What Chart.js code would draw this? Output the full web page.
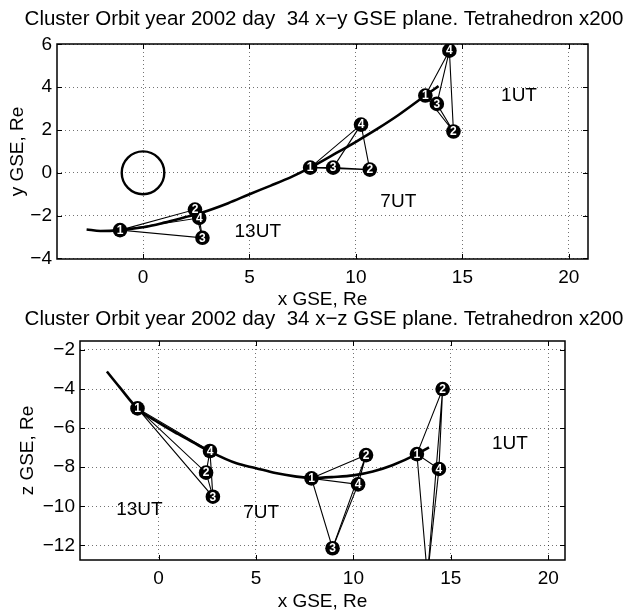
<!DOCTYPE html>
<html>
<head>
<meta charset="utf-8">
<script src="https://cdn.jsdelivr.net/npm/chart.js@4.4.0/dist/chart.umd.min.js"></script>
<style>
  body { margin: 0; background: #fff; }
  .box { position: absolute; left: 0; top: 0; width: 629px; height: 610px; }
</style>
</head>
<body>
<div class="box"><canvas id="xyChart" width="629" height="610"></canvas></div>
<div class="box"><canvas id="xzChart" width="629" height="610"></canvas></div>
<script>
const FONT = '"Liberation Sans", Arial, Helvetica, sans-serif';

// --- tick labels ---
const xTicks = [0, 5, 10, 15, 20];
const yTicks = [-4, -2, 0, 2, 4, 6];
const zTicks = [-12, -10, -8, -6, -4, -2];

// --- orbit (Re, GSE) ---
const orbitX = [-2.65, -2, -1.08, 0, 1, 2, 2.64, 4, 5, 6, 7, 7.85, 9, 10, 11, 12, 13.26, 13.88];
const orbitY = [-2.65, -2.72, -2.68, -2.55, -2.33, -2.07, -1.9, -1.42, -1.0, -0.6, -0.18, 0.24, 0.88, 1.45, 2.05, 2.7, 3.61, 4.05];
const orbitZ = [-3.1, -3.9, -4.99, -5.72, -6.3, -6.85, -7.2, -7.8, -8.05, -8.3, -8.47, -8.55, -8.5, -8.42, -8.22, -7.9, -7.33, -6.98];

// --- tetrahedron (spacecraft 1..4, scaled x200) ---
const scNames = ['1', '2', '3', '4'];
const sc1UT_x = [13.26, 14.58, 13.80, 14.39];
const sc1UT_y = [3.61, 1.93, 3.22, 5.71];
const sc1UT_z = [-7.33, -4.0, -13.6, -8.09];
const sc7UT_x = [7.85, 10.65, 8.93, 10.24];
const sc7UT_y = [0.24, 0.15, 0.24, 2.25];
const sc7UT_z = [-8.57, -7.38, -12.15, -8.88];
const sc13UT_x = [-1.08, 2.44, 2.79, 2.64];
const sc13UT_y = [-2.68, -1.72, -3.04, -2.11];
const sc13UT_z = [-4.99, -8.28, -9.51, -7.17];

// --- time labels ---
const utNames = ['1UT', '7UT', '13UT'];
const utXY_x = [17.66, 11.99, 5.39];
const utXY_y = [3.61, -1.36, -2.76];
const utXZ_x = [18.03, 5.27, -0.98];
const utXZ_z = [-6.78, -10.33, -10.19];

// Earth
const earthX = 0, earthY = 0, earthR = 1;

function pts(xs, vs, idx) {
    return idx.map(i => ({ x: xs[i], y: vs[i] }));
}

function fmtTick(v) {
    return v < 0 ? '\u2212' + Math.abs(v) : String(v);
}

function buildDatasets(tetras, orbitV) {
    const markers = [], edges = [];
    tetras.forEach(t => {
        markers.push({
            data: pts(t[0], t[1], [0, 1, 2, 3]),
            scLabels: scNames,
            showLine: false,
            pointRadius: 7.3,
            pointHoverRadius: 7.3,
            pointBackgroundColor: '#000',
            pointBorderWidth: 0
        });
        // all 6 edges: 1-2-3-1-4-2 and 3-4
        edges.push({
            data: pts(t[0], t[1], [0, 1, 2, 0, 3, 1]),
            showLine: true, borderColor: '#000', borderWidth: 1.1, pointRadius: 0
        });
        edges.push({
            data: pts(t[0], t[1], [2, 3]),
            showLine: true, borderColor: '#000', borderWidth: 1.1, pointRadius: 0
        });
    });
    const orbit = {
        data: orbitX.map((x, i) => ({ x: x, y: orbitV[i] })),
        showLine: true, borderColor: '#000', borderWidth: 2.6, pointRadius: 0,
        cubicInterpolationMode: 'monotone'
    };
    return markers.concat(edges, [orbit]);
}

// --- plugin: frame, marker numbers, texts ---
const plotDecor = {
    id: 'plotDecor',
    beforeDatasetsDraw(chart, args, o) {
        if (!o.earth) return;
        const { ctx, scales } = chart;
        const cx = scales.x.getPixelForValue(earthX), cy = scales.y.getPixelForValue(earthY);
        const rx = scales.x.getPixelForValue(earthX + earthR) - cx;
        const ry = cy - scales.y.getPixelForValue(earthY + earthR);
        ctx.save();
        ctx.strokeStyle = '#000';
        ctx.lineWidth = 2.4;
        ctx.beginPath();
        ctx.ellipse(cx, cy, rx, ry, 0, 0, Math.PI * 2);
        ctx.stroke();
        ctx.restore();
    },
    afterDatasetsDraw(chart, args, o) {
        const { ctx, chartArea: a, scales } = chart;
        ctx.save();
        ctx.beginPath();
        ctx.rect(a.left, a.top, a.right - a.left, a.bottom - a.top);
        ctx.clip();
        ctx.textAlign = 'center';
        ctx.textBaseline = 'middle';
        ctx.fillStyle = '#fff';
        ctx.font = 'bold 12px ' + FONT;
        chart.data.datasets.forEach((ds, i) => {
            if (!ds.scLabels) return;
            chart.getDatasetMeta(i).data.forEach((p, j) => ctx.fillText(ds.scLabels[j], p.x, p.y + 0.5));
        });
        ctx.fillStyle = '#000';
        ctx.font = '19px ' + FONT;
        o.utX.forEach((x, k) => {
            ctx.fillText(utNames[k], scales.x.getPixelForValue(x), scales.y.getPixelForValue(o.utY[k]));
        });
        ctx.restore();

        // box with inward ticks
        ctx.save();
        ctx.strokeStyle = '#000';
        ctx.lineWidth = 1.5;
        ctx.strokeRect(a.left, a.top, a.right - a.left, a.bottom - a.top);
        ctx.lineWidth = 1;
        ctx.beginPath();
        scales.x.ticks.forEach(t => {
            const px = Math.round(scales.x.getPixelForValue(t.value)) + 0.5;
            ctx.moveTo(px, a.bottom); ctx.lineTo(px, a.bottom - 5);
            ctx.moveTo(px, a.top); ctx.lineTo(px, a.top + 5);
        });
        scales.y.ticks.forEach(t => {
            const py = Math.round(scales.y.getPixelForValue(t.value)) + 0.5;
            ctx.moveTo(a.left, py); ctx.lineTo(a.left + 5, py);
            ctx.moveTo(a.right, py); ctx.lineTo(a.right - 5, py);
        });
        ctx.stroke();
        ctx.restore();
    },
    afterDraw(chart, args, o) {
        const { ctx, chartArea: a } = chart;
        const mid = (a.left + a.right) / 2;
        ctx.save();
        ctx.fillStyle = '#000';
        ctx.textAlign = 'center';
        ctx.textBaseline = 'alphabetic';
        ctx.font = '20.5px ' + FONT;
        ctx.fillText(o.title, mid + 1.5, o.titleY);
        ctx.font = '19px ' + FONT;
        ctx.fillText(o.xLabel, mid, o.xLabelY);
        ctx.translate(o.yLabelX, (a.top + a.bottom) / 2);
        ctx.rotate(-Math.PI / 2);
        ctx.fillText(o.yLabel, 0, 0);
        ctx.restore();
    }
};

// axisW / axisH: room kept for the tick labels left of and below the plot box
function makeChart(id, datasets, lim, vTicks, padding, axisW, axisH, decor) {
    const ctx = document.getElementById(id).getContext('2d');
    const gridColor = 'rgba(0,0,0,0.55)';
    return new Chart(ctx, {
        type: 'scatter',
        data: { datasets: datasets },
        plugins: [plotDecor],
        options: {
            responsive: false,
            animation: false,
            events: [],
            layout: { padding: padding },
            plugins: {
                legend: { display: false },
                tooltip: { enabled: false },
                plotDecor: decor
            },
            scales: {
                x: {
                    type: 'linear', min: lim[0], max: lim[1],
                    afterFit: s => { s.height = axisH; },
                    afterBuildTicks: s => { s.ticks = xTicks.map(v => ({ value: v })); },
                    grid: { color: gridColor, drawTicks: false, lineWidth: 1 },
                    border: { display: false, dash: [1, 3] },
                    ticks: { color: '#000', font: { family: FONT, size: 19 }, padding: 7, maxRotation: 0, autoSkip: false, callback: fmtTick }
                },
                y: {
                    type: 'linear', min: lim[2], max: lim[3],
                    afterFit: s => { s.width = axisW; },
                    afterBuildTicks: s => { s.ticks = vTicks.map(v => ({ value: v })); },
                    grid: { color: gridColor, drawTicks: false, lineWidth: 1 },
                    border: { display: false, dash: [1, 3] },
                    ticks: { color: '#000', font: { family: FONT, size: 19 }, padding: 5, autoSkip: false, callback: fmtTick }
                }
            }
        }
    });
}

makeChart('xyChart',
    buildDatasets([[sc1UT_x, sc1UT_y], [sc7UT_x, sc7UT_y], [sc13UT_x, sc13UT_y]], orbitY),
    [-4.04, 20.9, -4.03, 6.02], yTicks,
    { left: 0, top: 44, right: 41, bottom: 321 }, 57, 30,
    {
        earth: true, utX: utXY_x, utY: utXY_y,
        title: 'Cluster Orbit year 2002 day  34 x\u2212y GSE plane. Tetrahedron x200', titleY: 25,
        xLabel: 'x GSE, Re', xLabelY: 305, yLabel: 'y GSE, Re', yLabelX: 23
    });

makeChart('xzChart',
    buildDatasets([[sc1UT_x, sc1UT_z], [sc7UT_x, sc7UT_z], [sc13UT_x, sc13UT_z]], orbitZ),
    [-4.03, 20.86, -12.75, -1.54], zTicks,
    { left: 0, top: 341, right: 64, bottom: 20 }, 80, 30,
    {
        earth: false, utX: utXZ_x, utY: utXZ_z,
        title: 'Cluster Orbit year 2002 day  34 x\u2212z GSE plane. Tetrahedron x200', titleY: 325,
        xLabel: 'x GSE, Re', xLabelY: 607, yLabel: 'z GSE, Re', yLabelX: 33
    });
</script>
</body>
</html>
